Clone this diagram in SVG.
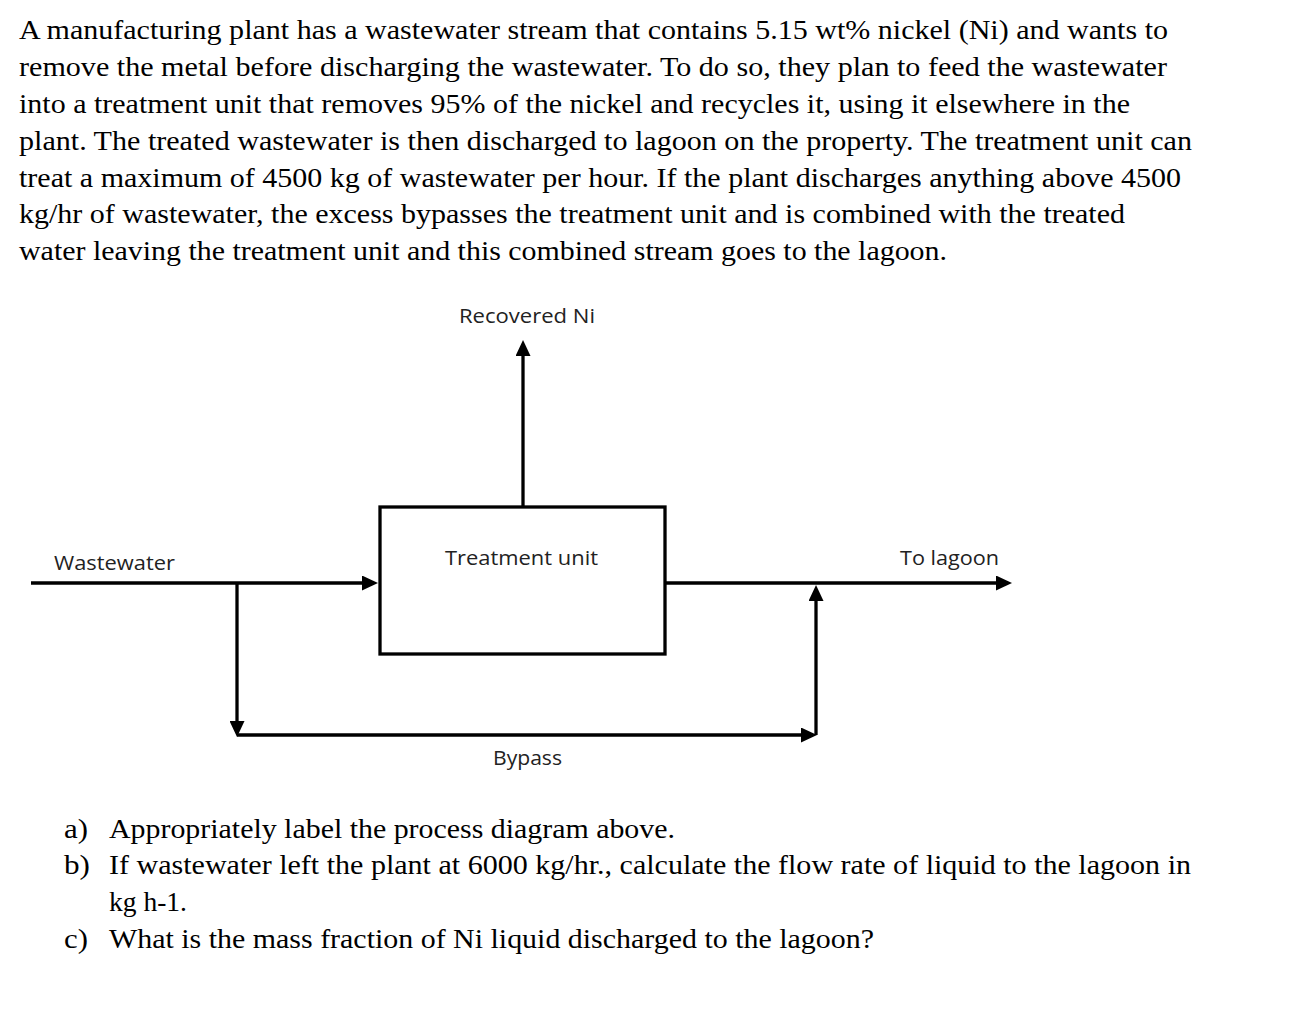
<svg xmlns="http://www.w3.org/2000/svg" width="1314" height="1014" viewBox="0 0 1314 1014">
  <style>
    .para { font-family: "Liberation Serif", "Times New Roman", serif; font-size: 27px; fill: #000; }
    .lbl { font-family: "Open Sans", "Liberation Sans", Arial, sans-serif; font-size: 20px; fill: #222; }
    .conn { fill: none; stroke: #000; stroke-width: 3.3; }
    .unit { fill: #fff; stroke: #000; stroke-width: 3.3; }
  </style>
  <defs>
    <marker id="arrow" markerUnits="userSpaceOnUse" markerWidth="16" markerHeight="15" refX="6" refY="7.5" orient="auto">
      <path d="M0,0 L16,7.5 L0,15 Z" fill="#000"/>
    </marker>
  </defs>
  <rect width="1314" height="1014" fill="#fff"/>

  <g id="problem-text">
    <text class="para" x="19" y="39" textLength="1149" lengthAdjust="spacingAndGlyphs">A manufacturing plant has a wastewater stream that contains 5.15 wt% nickel (Ni) and wants to</text>
    <text class="para" x="19" y="76" textLength="1148" lengthAdjust="spacingAndGlyphs">remove the metal before discharging the wastewater. To do so, they plan to feed the wastewater</text>
    <text class="para" x="19" y="113" textLength="1111" lengthAdjust="spacingAndGlyphs">into a treatment unit that removes 95% of the nickel and recycles it, using it elsewhere in the</text>
    <text class="para" x="19" y="150" textLength="1173" lengthAdjust="spacingAndGlyphs">plant. The treated wastewater is then discharged to lagoon on the property. The treatment unit can</text>
    <text class="para" x="19" y="187" textLength="1162" lengthAdjust="spacingAndGlyphs">treat a maximum of 4500 kg of wastewater per hour. If the plant discharges anything above 4500</text>
    <text class="para" x="19" y="223" textLength="1106" lengthAdjust="spacingAndGlyphs">kg/hr of wastewater, the excess bypasses the treatment unit and is combined with the treated</text>
    <text class="para" x="19" y="260" textLength="928" lengthAdjust="spacingAndGlyphs">water leaving the treatment unit and this combined stream goes to the lagoon.</text>
  </g>

  <g id="connectors">
    <path class="conn" d="M31,583 H368" marker-end="url(#arrow)"/>
    <path class="conn" d="M523,507 V350" marker-end="url(#arrow)"/>
    <path class="conn" d="M665,583 H1002" marker-end="url(#arrow)"/>
    <path class="conn" d="M237,583 V727" marker-end="url(#arrow)"/>
    <path class="conn" d="M237,735 H807" marker-end="url(#arrow)"/>
    <path class="conn" d="M816,735 V595" marker-end="url(#arrow)"/>
  </g>

  <g id="treatment-unit">
    <rect class="unit" x="380" y="507" width="285" height="147"/>
    <text class="lbl" x="445" y="565" textLength="153" lengthAdjust="spacingAndGlyphs">Treatment unit</text>
  </g>

  <g id="label-recovered-ni">
    <text class="lbl" x="459" y="323" textLength="136" lengthAdjust="spacingAndGlyphs">Recovered Ni</text>
  </g>
  <g id="label-wastewater">
    <text class="lbl" x="54" y="570" textLength="121" lengthAdjust="spacingAndGlyphs">Wastewater</text>
  </g>
  <g id="label-to-lagoon">
    <text class="lbl" x="900" y="565" textLength="99" lengthAdjust="spacingAndGlyphs">To lagoon</text>
  </g>
  <g id="label-bypass">
    <text class="lbl" x="493" y="765" textLength="69" lengthAdjust="spacingAndGlyphs">Bypass</text>
  </g>

  <g id="questions">
    <text class="para" x="64" y="838" textLength="24" lengthAdjust="spacingAndGlyphs">a)</text>
    <text class="para" x="109" y="838" textLength="566" lengthAdjust="spacingAndGlyphs">Appropriately label the process diagram above.</text>
    <text class="para" x="64" y="874" textLength="26" lengthAdjust="spacingAndGlyphs">b)</text>
    <text class="para" x="109" y="874" textLength="1082" lengthAdjust="spacingAndGlyphs">If wastewater left the plant at 6000 kg/hr., calculate the flow rate of liquid to the lagoon in</text>
    <text class="para" x="109" y="911" textLength="78" lengthAdjust="spacingAndGlyphs">kg h-1.</text>
    <text class="para" x="64" y="948" textLength="24" lengthAdjust="spacingAndGlyphs">c)</text>
    <text class="para" x="109" y="948" textLength="765" lengthAdjust="spacingAndGlyphs">What is the mass fraction of Ni liquid discharged to the lagoon?</text>
  </g>
</svg>
